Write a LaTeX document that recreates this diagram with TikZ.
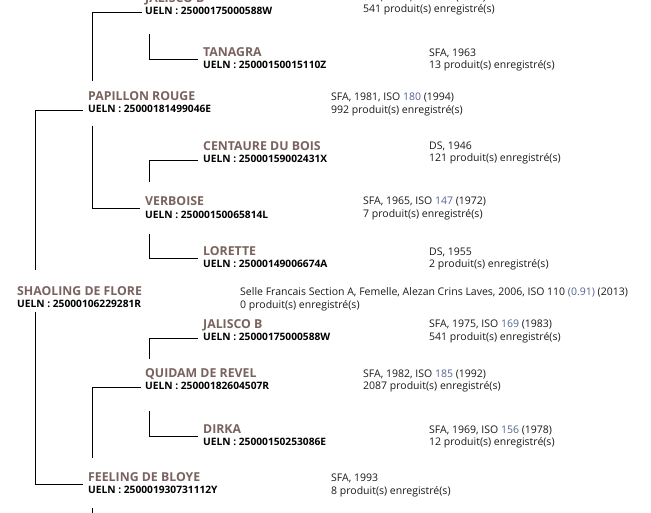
\documentclass[tikz,border=0pt]{standalone}
\usepackage{fontspec}
\setmainfont{Open Sans}
\definecolor{horsebrown}{RGB}{122,99,94}
\definecolor{isoblue}{RGB}{84,98,146}

\begin{document}
\begin{tikzpicture}[
  x=1pt, y=1pt,
  horse/.style={anchor=base west, inner sep=0pt, text height=9pt, text depth=2.5pt, font=\bfseries\fontsize{12.3}{14}\selectfont, text=horsebrown},
  ueln/.style={anchor=base west, inner sep=0pt, text height=7.5pt, text depth=2.5pt, font=\bfseries\fontsize{10.2}{12}\selectfont},
  info/.style={anchor=base west, inner sep=0pt, align=left, font=\fontsize{10.5}{12.8}\selectfont, text=black!90},
  link/.style={draw, line width=0.9pt}
]
\useasboundingbox[fill=white] (0,0) rectangle (651,-512);

% level 0
\node[horse] (shaoling) at (17,-295.3) {SHAOLING DE FLORE};
\node[ueln] (shaoling-u) at ([yshift=-12.5pt]shaoling.base west) {UELN : 25000106229281R};
\node[info] (shaoling-i) at (240,-308) {Selle Francais Section A, Femelle, Alezan Crins Laves, 2006, ISO 110 \textcolor{isoblue}{(0.91)} (2013)\\0 produit(s) enregistré(s)};

% level 1
\node[horse] (papillon) at (88,-100.3) {PAPILLON ROUGE};
\node[ueln] (papillon-u) at ([yshift=-12.5pt]papillon.base west) {UELN : 25000181499046E};
\node[info] (papillon-i) at (331,-113) {SFA, 1981, ISO \textcolor{isoblue}{180} (1994)\\992 produit(s) enregistré(s)};

\node[horse] (feeling) at (88,-481.3) {FEELING DE BLOYE};
\node[ueln] (feeling-u) at ([yshift=-12.5pt]feeling.base west) {UELN : 250001930731112Y};
\node[info] (feeling-i) at (331,-494.5) {SFA, 1993\\8 produit(s) enregistré(s)};

% level 2
\node[horse] (jalisco) at (145,-2.3) {JALISCO B};
\node[ueln] (jalisco-u) at ([yshift=-12.5pt]jalisco.base west) {UELN : 25000175000588W};
\node[info] (jalisco-i) at (363,-12.8) {SFA, 1975, ISO \textcolor{isoblue}{169} (1983)\\541 produit(s) enregistré(s)};

\node[horse] (verboise) at (145,-205.8) {VERBOISE};
\node[ueln] (verboise-u) at ([yshift=-12.5pt]verboise.base west) {UELN : 25000150065814L};
\node[info] (verboise-i) at (363,-217) {SFA, 1965, ISO \textcolor{isoblue}{147} (1972)\\7 produit(s) enregistré(s)};

\node[horse] (quidam) at (145,-377.3) {QUIDAM DE REVEL};
\node[ueln] (quidam-u) at ([yshift=-12.5pt]quidam.base west) {UELN : 25000182604507R};
\node[info] (quidam-i) at (363,-389.8) {SFA, 1982, ISO \textcolor{isoblue}{185} (1992)\\2087 produit(s) enregistré(s)};

% level 3
\node[horse] (tanagra) at (203,-56.3) {TANAGRA};
\node[ueln] (tanagra-u) at ([yshift=-12.5pt]tanagra.base west) {UELN : 25000150015110Z};
\node[info] (tanagra-i) at (429,-68.8) {SFA, 1963\\13 produit(s) enregistré(s)};

\node[horse] (centaure) at (203,-150.3) {CENTAURE DU BOIS};
\node[ueln] (centaure-u) at ([yshift=-12.5pt]centaure.base west) {UELN : 25000159002431X};
\node[info] (centaure-i) at (429,-161.8) {DS, 1946\\121 produit(s) enregistré(s)};

\node[horse] (lorette) at (203,-255.3) {LORETTE};
\node[ueln] (lorette-u) at ([yshift=-12.5pt]lorette.base west) {UELN : 25000149006674A};
\node[info] (lorette-i) at (429,-267.8) {DS, 1955\\2 produit(s) enregistré(s)};

\node[horse] (jaliscob) at (203,-328.3) {JALISCO B};
\node[ueln] (jaliscob-u) at ([yshift=-12.5pt]jaliscob.base west) {UELN : 25000175000588W};
\node[info] (jaliscob-i) at (429,-340.5) {SFA, 1975, ISO \textcolor{isoblue}{169} (1983)\\541 produit(s) enregistré(s)};

\node[horse] (dirka) at (203,-433.3) {DIRKA};
\node[ueln] (dirka-u) at ([yshift=-12.5pt]dirka.base west) {UELN : 25000150253086E};
\node[info] (dirka-i) at (429,-445.8) {SFA, 1969, ISO \textcolor{isoblue}{156} (1978)\\12 produit(s) enregistré(s)};

\coordinate (feeling-next) at (92,-530);

% links
\draw[link] ([shift={(18pt,16pt)}]shaoling.north west) |- ([xshift=-5pt]papillon-u.west);
\draw[link] ([shift={(18pt,-1pt)}]shaoling-u.south west) |- ([xshift=-5pt]feeling.south west);
\draw[link] ([shift={(4pt,10pt)}]papillon.north west) |- ([xshift=-3pt]jalisco-u.west);
\draw[link] ([shift={(4pt,-10pt)}]papillon-u.south west) |- ([xshift=-5pt]verboise.south west);
\draw[link] ([shift={(4pt,-16pt)}]jalisco-u.south west) |- ([xshift=-5pt]tanagra.south west);
\draw[link] ([shift={(4pt,15pt)}]verboise.north west) |- ([xshift=-5pt]centaure-u.west);
\draw[link] ([shift={(4pt,-13pt)}]verboise-u.south west) |- ([xshift=-5pt]lorette.south west);
\draw[link] ([shift={(4pt,14pt)}]feeling.north west) |- ([xshift=-4pt]quidam-u.west);
\draw[link] ([shift={(4pt,9pt)}]quidam.north west) |- ([xshift=-5pt]jaliscob-u.west);
\draw[link] ([shift={(4pt,-18pt)}]quidam-u.south west) |- ([xshift=-5pt]dirka.south west);
\draw[link] ([shift={(4pt,-11pt)}]feeling-u.south west) -- (feeling-next);
\end{tikzpicture}
\end{document}
